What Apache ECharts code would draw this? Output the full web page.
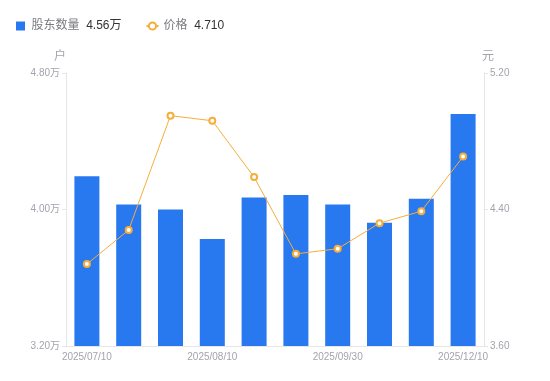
<!DOCTYPE html>
<html><head><meta charset="utf-8">
<script src="https://cdn.jsdelivr.net/npm/echarts@6/dist/echarts.min.js"></script>
<style>html,body{margin:0;padding:0;background:#fff}#c{width:550px;height:381px}</style>
</head><body><div id="c"></div>
<script>
var categories = ['2025/07/10','2025/07/20','2025/07/31','2025/08/10','2025/08/20','2025/08/31','2025/09/30','2025/10/31','2025/11/20','2025/12/10'];
var holders = [41950, 40300, 40000, 38270, 40700, 40850, 40300, 39230, 40630, 45600];
var prices = [4.08, 4.28, 4.95, 4.92, 4.59, 4.14, 4.17, 4.32, 4.39, 4.71];
var leftTicks = [32000, 40000, 48000];
var rightTicks = [3.6, 4.4, 5.2];
var legendValues = {'股东数量': '4.56万', '价格': '4.710'};

var FONT = '"Liberation Sans", "Noto Sans CJK SC", sans-serif';
var chart = echarts.init(document.getElementById('c'));
chart.setOption({
  animation: false,
  textStyle: {fontFamily: FONT},
  legend: {
    left: 11, top: 15, itemWidth: 12, itemHeight: 9, itemGap: 24,
    data: [{name: '股东数量', icon: 'path://M0,0h9v9h-9z'}, {name: '价格'}],
    formatter: function (n) { return '{n|' + n + '}  {v|' + legendValues[n] + '}'; },
    textStyle: {
      fontFamily: FONT,
      rich: {
        n: {color: '#7a7a80', fontSize: 12, fontFamily: FONT},
        v: {color: '#333333', fontSize: 12, fontFamily: FONT}
      }
    }
  },
  grid: {left: 66, right: 66, top: 73, bottom: 35},
  xAxis: {
    type: 'category', data: categories,
    axisLine: {lineStyle: {color: '#e6e6e6'}},
    axisTick: {show: false},
    axisLabel: {interval: 2, color: '#a3a3ad', fontSize: 10, margin: 6, fontFamily: FONT}
  },
  yAxis: [{
    type: 'value', min: 32000, max: 48000, interval: 8000,
    name: '户', nameGap: 10, nameTextStyle: {color: '#a3a3ad', fontSize: 12, padding: [0, 12, 0, 0]},
    axisLine: {show: true, lineStyle: {color: '#e6e6e6'}},
    axisTick: {show: true, length: 4, lineStyle: {color: '#e6e6e6'}},
    splitLine: {show: false},
    axisLabel: {color: '#a3a3ad', fontSize: 10, margin: 6, fontFamily: FONT,
      formatter: function (v) { return (v / 10000).toFixed(2) + '万'; }}
  }, {
    type: 'value', min: 3.6, max: 5.2, position: 'right',
    name: '元', nameGap: 10, nameTextStyle: {color: '#a3a3ad', fontSize: 12, padding: [0, 0, 0, 8]},
    axisLine: {show: true, lineStyle: {color: '#e6e6e6'}},
    axisTick: {show: true, length: 4, lineStyle: {color: '#e6e6e6'}, customValues: rightTicks},
    splitLine: {show: false},
    axisLabel: {color: '#a3a3ad', fontSize: 10, margin: 6, fontFamily: FONT, customValues: rightTicks,
      formatter: function (v) { return v.toFixed(2); }}
  }],
  series: [{
    name: '股东数量', type: 'bar', data: holders, barWidth: 25,
    itemStyle: {color: '#2878f0'}
  }, {
    name: '价格', type: 'line', yAxisIndex: 1, data: prices,
    symbol: 'emptyCircle', symbolSize: 6,
    lineStyle: {color: '#f6ad3a', width: 1},
    itemStyle: {color: '#f6ad3a', borderWidth: 2}
  }]
});
</script></body></html>
